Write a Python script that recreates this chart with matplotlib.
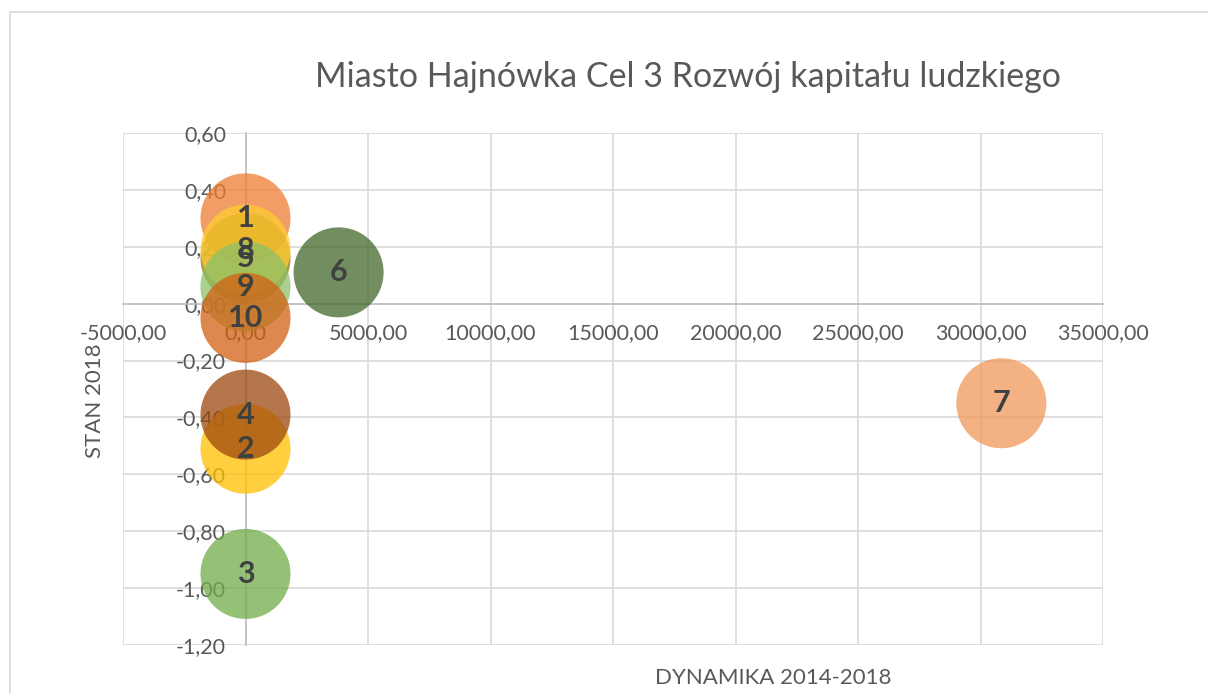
import matplotlib
matplotlib.use("Agg")
import matplotlib.pyplot as plt
from matplotlib.patches import Rectangle
from matplotlib.ticker import FuncFormatter, MultipleLocator

plt.rcParams['font.family'] = ['Lato', 'DejaVu Sans']

# dane
labels = ["1", "2", "3", "4", "5", "6", "7", "8", "9", "10"]
dynamika = [0, 0, 0, 0, 0, 3800, 30850, 0, 0, 0]
stan = [0.30, -0.51, -0.95, -0.39, 0.16, 0.11, -0.35, 0.19, 0.06, -0.05]
kolory = ["#ED7D31", "#FFC000", "#70AD47", "#9E480E", "#997300",
          "#43682B", "#F1975A", "#FFCD33", "#8CC168", "#D26012"]

fig = plt.figure(figsize=(12.08, 6.93), dpi=100)
ax = fig.add_axes([123/1208, 1 - 645/693, 980/1208, 512/693])

# ramka obszaru wykresu
fig.patches.append(Rectangle((10/1208, -0.1), 1.2, 1 - 12/693 + 0.1,
                             transform=fig.transFigure, fill=False,
                             edgecolor="#D9D9D9", linewidth=1.2))

for i in range(len(labels)):
    ax.scatter(dynamika[i], stan[i], s=4200, color=kolory[i], alpha=0.75,
               edgecolors="none", zorder=3)
for i in range(len(labels)):
    ax.text(dynamika[i], stan[i], labels[i], ha="center", va="center",
            fontsize=22, fontweight="bold", color="#404040", zorder=5)

ax.set_xlim(-5000, 35000)
ax.set_ylim(-1.2, 0.6)
ax.xaxis.set_major_locator(MultipleLocator(5000))
ax.yaxis.set_major_locator(MultipleLocator(0.2))
fmt = FuncFormatter(lambda v, p: f"{v:.2f}".replace(".", ",").replace("-0,00", "0,00"))
ax.xaxis.set_major_formatter(fmt)
ax.yaxis.set_major_formatter(fmt)

ax.grid(True, color="#D9D9D9", linewidth=1.2, zorder=0)
ax.set_axisbelow(True)
for s in ["top", "right"]:
    ax.spines[s].set_visible(False)
ax.spines["left"].set_position(("data", 0))
ax.spines["bottom"].set_position(("data", 0))
ax.spines["left"].set_color("#BFBFBF")
ax.spines["bottom"].set_color("#BFBFBF")
ax.spines["left"].set_linewidth(1.2)
ax.spines["bottom"].set_linewidth(1.2)
ax.tick_params(axis="x", length=0, pad=14, labelsize=15.5, labelcolor="#595959")
ax.tick_params(axis="y", length=0, pad=14, labelsize=15.5, labelcolor="#595959")

fig.text(688/1208, 1 - 77/693, "Miasto Hajnówka Cel 3 Rozwój kapitału ludzkiego",
         ha="center", va="center", fontsize=24.5, color="#595959")
fig.text(773/1208, 1 - 678/693, "DYNAMIKA 2014-2018", ha="center", va="center",
         fontsize=16, color="#595959")
fig.text(95/1208, 1 - 401/693, "STAN 2018", ha="center", va="center",
         rotation=90, fontsize=16, color="#595959")

fig.savefig("out.png", dpi=100)
